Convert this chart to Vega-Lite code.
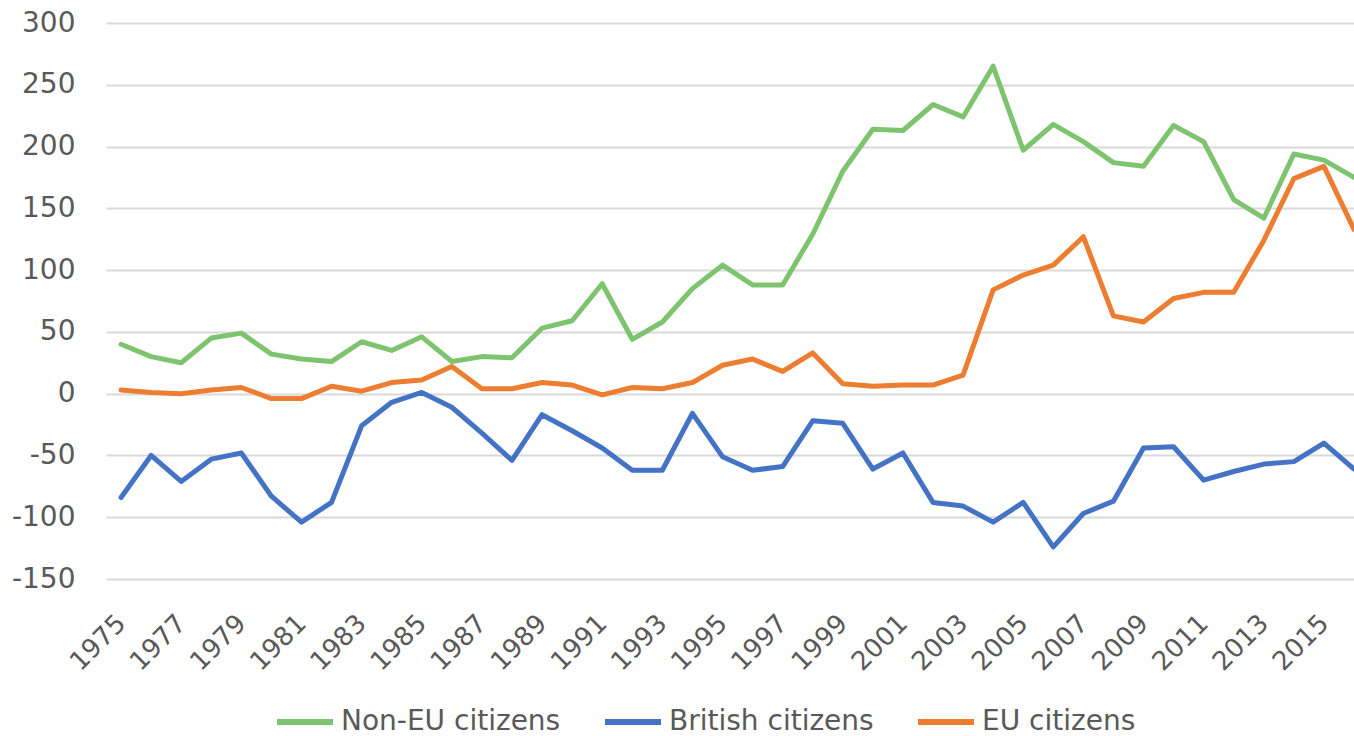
{
  "$schema": "https://vega.github.io/schema/vega-lite/v6.json",
  "autosize": {"type": "none"},
  "padding": {"left": 106, "top": 23, "right": 0, "bottom": 157},
  "width": 1248,
  "height": 556,
  "config": {
    "view": {"stroke": null},
    "font": "DejaVu Sans",
    "axis": {"labelFont": "DejaVu Sans", "labelColor": "#595959"},
    "legend": {"labelFont": "DejaVu Sans", "labelColor": "#595959"}
  },
  "data": {
    "values": [
      {"year": 1975, "series": "Non-EU citizens", "value": 40},
      {"year": 1976, "series": "Non-EU citizens", "value": 30},
      {"year": 1977, "series": "Non-EU citizens", "value": 25},
      {"year": 1978, "series": "Non-EU citizens", "value": 45},
      {"year": 1979, "series": "Non-EU citizens", "value": 49},
      {"year": 1980, "series": "Non-EU citizens", "value": 32},
      {"year": 1981, "series": "Non-EU citizens", "value": 28},
      {"year": 1982, "series": "Non-EU citizens", "value": 26},
      {"year": 1983, "series": "Non-EU citizens", "value": 42},
      {"year": 1984, "series": "Non-EU citizens", "value": 35},
      {"year": 1985, "series": "Non-EU citizens", "value": 46},
      {"year": 1986, "series": "Non-EU citizens", "value": 26},
      {"year": 1987, "series": "Non-EU citizens", "value": 30},
      {"year": 1988, "series": "Non-EU citizens", "value": 29},
      {"year": 1989, "series": "Non-EU citizens", "value": 53},
      {"year": 1990, "series": "Non-EU citizens", "value": 59},
      {"year": 1991, "series": "Non-EU citizens", "value": 89},
      {"year": 1992, "series": "Non-EU citizens", "value": 44},
      {"year": 1993, "series": "Non-EU citizens", "value": 58},
      {"year": 1994, "series": "Non-EU citizens", "value": 85},
      {"year": 1995, "series": "Non-EU citizens", "value": 104},
      {"year": 1996, "series": "Non-EU citizens", "value": 88},
      {"year": 1997, "series": "Non-EU citizens", "value": 88},
      {"year": 1998, "series": "Non-EU citizens", "value": 129},
      {"year": 1999, "series": "Non-EU citizens", "value": 180},
      {"year": 2000, "series": "Non-EU citizens", "value": 214},
      {"year": 2001, "series": "Non-EU citizens", "value": 213},
      {"year": 2002, "series": "Non-EU citizens", "value": 234},
      {"year": 2003, "series": "Non-EU citizens", "value": 224},
      {"year": 2004, "series": "Non-EU citizens", "value": 265},
      {"year": 2005, "series": "Non-EU citizens", "value": 197},
      {"year": 2006, "series": "Non-EU citizens", "value": 218},
      {"year": 2007, "series": "Non-EU citizens", "value": 204},
      {"year": 2008, "series": "Non-EU citizens", "value": 187},
      {"year": 2009, "series": "Non-EU citizens", "value": 184},
      {"year": 2010, "series": "Non-EU citizens", "value": 217},
      {"year": 2011, "series": "Non-EU citizens", "value": 204},
      {"year": 2012, "series": "Non-EU citizens", "value": 157},
      {"year": 2013, "series": "Non-EU citizens", "value": 142},
      {"year": 2014, "series": "Non-EU citizens", "value": 194},
      {"year": 2015, "series": "Non-EU citizens", "value": 189},
      {"year": 2016, "series": "Non-EU citizens", "value": 175},
      {"year": 1975, "series": "British citizens", "value": -84},
      {"year": 1976, "series": "British citizens", "value": -50},
      {"year": 1977, "series": "British citizens", "value": -71},
      {"year": 1978, "series": "British citizens", "value": -53},
      {"year": 1979, "series": "British citizens", "value": -48},
      {"year": 1980, "series": "British citizens", "value": -83},
      {"year": 1981, "series": "British citizens", "value": -104},
      {"year": 1982, "series": "British citizens", "value": -88},
      {"year": 1983, "series": "British citizens", "value": -26},
      {"year": 1984, "series": "British citizens", "value": -7},
      {"year": 1985, "series": "British citizens", "value": 1},
      {"year": 1986, "series": "British citizens", "value": -11},
      {"year": 1987, "series": "British citizens", "value": -32},
      {"year": 1988, "series": "British citizens", "value": -54},
      {"year": 1989, "series": "British citizens", "value": -17},
      {"year": 1990, "series": "British citizens", "value": -30},
      {"year": 1991, "series": "British citizens", "value": -44},
      {"year": 1992, "series": "British citizens", "value": -62},
      {"year": 1993, "series": "British citizens", "value": -62},
      {"year": 1994, "series": "British citizens", "value": -16},
      {"year": 1995, "series": "British citizens", "value": -51},
      {"year": 1996, "series": "British citizens", "value": -62},
      {"year": 1997, "series": "British citizens", "value": -59},
      {"year": 1998, "series": "British citizens", "value": -22},
      {"year": 1999, "series": "British citizens", "value": -24},
      {"year": 2000, "series": "British citizens", "value": -61},
      {"year": 2001, "series": "British citizens", "value": -48},
      {"year": 2002, "series": "British citizens", "value": -88},
      {"year": 2003, "series": "British citizens", "value": -91},
      {"year": 2004, "series": "British citizens", "value": -104},
      {"year": 2005, "series": "British citizens", "value": -88},
      {"year": 2006, "series": "British citizens", "value": -124},
      {"year": 2007, "series": "British citizens", "value": -97},
      {"year": 2008, "series": "British citizens", "value": -87},
      {"year": 2009, "series": "British citizens", "value": -44},
      {"year": 2010, "series": "British citizens", "value": -43},
      {"year": 2011, "series": "British citizens", "value": -70},
      {"year": 2012, "series": "British citizens", "value": -63},
      {"year": 2013, "series": "British citizens", "value": -57},
      {"year": 2014, "series": "British citizens", "value": -55},
      {"year": 2015, "series": "British citizens", "value": -40},
      {"year": 2016, "series": "British citizens", "value": -61},
      {"year": 1975, "series": "EU citizens", "value": 3},
      {"year": 1976, "series": "EU citizens", "value": 1},
      {"year": 1977, "series": "EU citizens", "value": 0},
      {"year": 1978, "series": "EU citizens", "value": 3},
      {"year": 1979, "series": "EU citizens", "value": 5},
      {"year": 1980, "series": "EU citizens", "value": -4},
      {"year": 1981, "series": "EU citizens", "value": -4},
      {"year": 1982, "series": "EU citizens", "value": 6},
      {"year": 1983, "series": "EU citizens", "value": 2},
      {"year": 1984, "series": "EU citizens", "value": 9},
      {"year": 1985, "series": "EU citizens", "value": 11},
      {"year": 1986, "series": "EU citizens", "value": 22},
      {"year": 1987, "series": "EU citizens", "value": 4},
      {"year": 1988, "series": "EU citizens", "value": 4},
      {"year": 1989, "series": "EU citizens", "value": 9},
      {"year": 1990, "series": "EU citizens", "value": 7},
      {"year": 1991, "series": "EU citizens", "value": -1},
      {"year": 1992, "series": "EU citizens", "value": 5},
      {"year": 1993, "series": "EU citizens", "value": 4},
      {"year": 1994, "series": "EU citizens", "value": 9},
      {"year": 1995, "series": "EU citizens", "value": 23},
      {"year": 1996, "series": "EU citizens", "value": 28},
      {"year": 1997, "series": "EU citizens", "value": 18},
      {"year": 1998, "series": "EU citizens", "value": 33},
      {"year": 1999, "series": "EU citizens", "value": 8},
      {"year": 2000, "series": "EU citizens", "value": 6},
      {"year": 2001, "series": "EU citizens", "value": 7},
      {"year": 2002, "series": "EU citizens", "value": 7},
      {"year": 2003, "series": "EU citizens", "value": 15},
      {"year": 2004, "series": "EU citizens", "value": 84},
      {"year": 2005, "series": "EU citizens", "value": 96},
      {"year": 2006, "series": "EU citizens", "value": 104},
      {"year": 2007, "series": "EU citizens", "value": 127},
      {"year": 2008, "series": "EU citizens", "value": 63},
      {"year": 2009, "series": "EU citizens", "value": 58},
      {"year": 2010, "series": "EU citizens", "value": 77},
      {"year": 2011, "series": "EU citizens", "value": 82},
      {"year": 2012, "series": "EU citizens", "value": 82},
      {"year": 2013, "series": "EU citizens", "value": 124},
      {"year": 2014, "series": "EU citizens", "value": 174},
      {"year": 2015, "series": "EU citizens", "value": 184},
      {"year": 2016, "series": "EU citizens", "value": 133}
    ]
  },
  "mark": {"type": "line", "strokeWidth": 5, "strokeJoin": "round", "strokeCap": "round", "clip": true},
  "encoding": {
    "x": {
      "field": "year",
      "type": "quantitative",
      "scale": {"domain": [1974.5, 2016], "nice": false, "zero": false},
      "axis": {
        "title": null,
        "values": [1975, 1977, 1979, 1981, 1983, 1985, 1987, 1989, 1991, 1993, 1995, 1997, 1999, 2001, 2003, 2005, 2007, 2009, 2011, 2013, 2015],
        "labelExpr": "toString(datum.value)",
        "labelAngle": -45,
        "labelAlign": "right",
        "labelBaseline": "middle",
        "labelFontSize": 26,
        "labelPadding": 40,
        "domain": false,
        "ticks": false,
        "grid": false,
        "labelOverlap": false,
        "labelBound": false,
        "labelFlush": false
      }
    },
    "y": {
      "field": "value",
      "type": "quantitative",
      "scale": {"domain": [-150, 300], "nice": false},
      "axis": {
        "title": null,
        "values": [-150, -100, -50, 0, 50, 100, 150, 200, 250, 300],
        "labelExpr": "toString(datum.value)",
        "labelFontSize": 28,
        "labelPadding": 31,
        "domain": false,
        "ticks": false,
        "grid": true,
        "gridColor": "#D9D9D9",
        "gridWidth": 2
      }
    },
    "color": {
      "field": "series",
      "type": "nominal",
      "sort": ["Non-EU citizens", "British citizens", "EU citizens"],
      "scale": {
        "domain": ["Non-EU citizens", "British citizens", "EU citizens"],
        "range": ["#7EC46E", "#4472C4", "#ED7D31"]
      },
      "legend": {
        "title": null,
        "orient": "none",
        "direction": "horizontal",
        "legendX": 168,
        "legendY": 668,
        "symbolType": "stroke",
        "symbolSize": 3136,
        "symbolStrokeWidth": 6,
        "labelFontSize": 28,
        "labelOffset": 5,
        "columnPadding": 32,
        "labelLimit": 400
      }
    }
  }
}
